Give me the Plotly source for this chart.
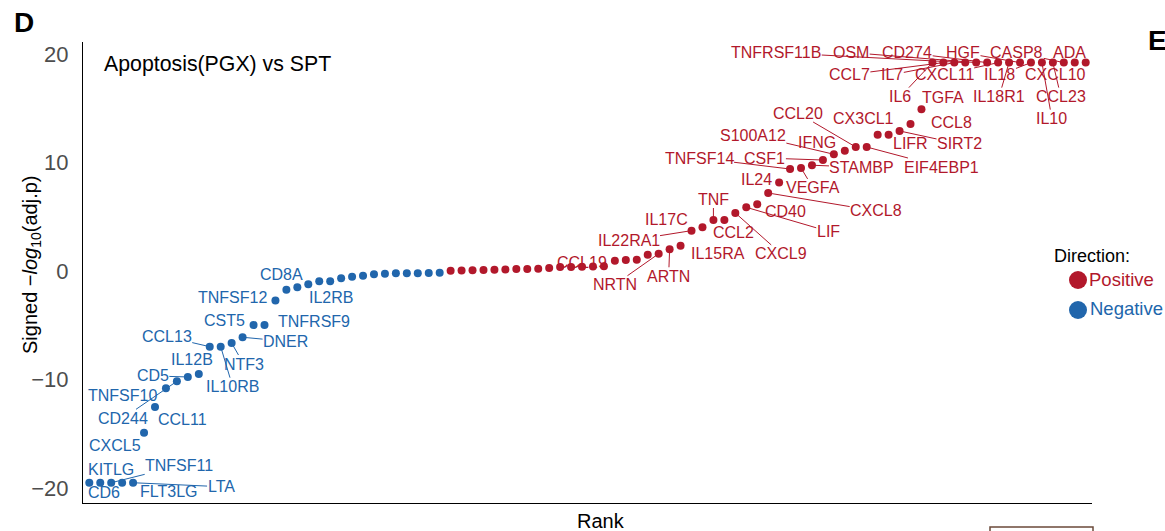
import plotly.graph_objects as go

# ---- data -------------------------------------------------------------
rank = list(range(1, 93))

signed_logp = [
    -19.51, -19.51, -19.51, -19.51, -19.51, -14.90, -12.53, -10.81, -10.16, -9.76,
    -9.49, -6.97, -6.97, -6.63, -6.10, -4.97, -4.97, -2.71, -1.72, -1.49,
    -1.21, -0.93, -0.93, -0.66, -0.52, -0.42, -0.30, -0.24, -0.20, -0.20,
    -0.19, -0.18, -0.15, 0.04, 0.05, 0.08, 0.10, 0.12, 0.14, 0.19,
    0.20, 0.22, 0.29, 0.38, 0.38, 0.39, 0.42, 0.45, 0.96, 1.02,
    1.05, 1.51, 1.60, 2.01, 2.34, 3.73, 4.04, 4.71, 4.71, 5.36,
    5.88, 6.16, 7.20, 8.17, 9.41, 9.51, 9.76, 10.24, 10.77, 11.10,
    11.44, 11.44, 12.58, 12.58, 12.92, 13.56, 14.92, 19.22, 19.22, 19.22,
    19.22, 19.22, 19.22, 19.22, 19.22, 19.22, 19.22, 19.22, 19.22, 19.22,
    19.22, 19.22,
]

label_rank = [
    1, 2, 3, 4, 5, 6, 7, 8, 9, 10, 11, 12, 13, 14, 15, 16, 17, 18, 19, 21,
    46, 53, 54, 55, 56, 57, 58, 59, 60, 61, 62, 63, 64, 65, 66, 67, 68, 69,
    70, 71, 72, 73, 74, 75, 76, 77, 78, 79, 80, 81, 82, 83, 84, 85, 86, 87,
    88, 89, 90, 91, 92,
]
label_gene = [
    "KITLG", "CD6", "TNFSF11", "FLT3LG", "LTA", "CXCL5", "CCL11", "TNFSF10",
    "CD244", "CD5", "IL12B", "CCL13", "IL10RB", "NTF3", "DNER", "CST5",
    "TNFRSF9", "TNFSF12", "CD8A", "IL2RB",
    "CCL19", "NRTN", "ARTN", "IL15RA", "IL22RA1", "IL17C", "TNF", "CCL2",
    "CXCL9", "LIF", "CD40", "CXCL8", "IL24", "TNFSF14", "VEGFA", "STAMBP",
    "CSF1", "S100A12", "IFNG", "CCL20", "EIF4EBP1", "CX3CL1", "LIFR", "SIRT2",
    "CCL8", "TGFA", "IL6", "CCL7", "IL7", "TNFRSF11B", "OSM", "CD274",
    "CXCL11", "IL18R1", "HGF", "IL18", "IL10", "CCL23", "CASP8", "CXCL10", "ADA",
]

# label placement: pixel offset of the text from its point, and whether a
# connector segment is drawn
label_place = {
    "KITLG": (22, -13, False), "CD6": (4, 10, False), "TNFSF11": (68, -17, True),
    "FLT3LG": (47, 9, False), "LTA": (88, 4, True), "CXCL5": (-29, 13, False),
    "CCL11": (28, 12, False), "TNFSF10": (-43, 7, False), "CD244": (-54, 37, True),
    "CD5": (-35, -1, True), "IL12B": (-7, -15, False), "CCL13": (-43, -10, True),
    "IL10RB": (12, 40, True), "NTF3": (12, 21, True), "DNER": (43, 4, True),
    "CST5": (-29, -5, False), "TNFRSF9": (50, -4, False), "TNFSF12": (-43, -3, False),
    "CD8A": (-5, -15, False), "IL2RB": (23, 13, False),
    "CCL19": (0, -4, False), "NRTN": (-44, 31, True), "ARTN": (-1, 27, True),
    "IL15RA": (37, 8, False), "IL22RA1": (-63, 10, True), "IL17C": (-36, -8, False),
    "TNF": (0, -21, True), "CCL2": (9, 12, False), "CXCL9": (46, 41, True),
    "LIF": (82, 24, True), "CD40": (28, 7, False), "CXCL8": (108, 18, True),
    "IL24": (-23, -3, False), "TNFSF14": (-91, -11, True), "VEGFA": (12, 20, True),
    "STAMBP": (50, 2, True), "CSF1": (-58, -2, True), "S100A12": (-81, -19, True),
    "IFNG": (-28, -8, False), "CCL20": (-58, -34, True), "EIF4EBP1": (75, 20, True),
    "CX3CL1": (-14, -16, False), "LIFR": (22, 9, False), "SIRT2": (60, 13, True),
    "CCL8": (41, -2, False), "TGFA": (22, -12, False), "IL6": (-32, 34, True),
    "CCL7": (-94, 12, True), "IL7": (-62, 12, True), "TNFRSF11B": (-189, -10, True),
    "OSM": (-125, -10, True), "CD274": (-80, -10, True), "CXCL11": (-54, 12, True),
    "IL18R1": (-10, 34, True), "HGF": (-57, -10, True), "IL18": (-31, 12, True),
    "IL10": (10, 56, True), "CCL23": (8, 34, True), "CASP8": (-47, -10, True),
    "CXCL10": (-19, 12, False), "ADA": (-16, -10, True),
}

RED = "#B2182B"
BLUE = "#2166AC"
FONT = "Liberation Sans, Arial, Helvetica, sans-serif"

fig = go.Figure()

for name, col in [("Negative", BLUE), ("Positive", RED)]:
    xs = [r for r, v in zip(rank, signed_logp) if (v < 0) == (name == "Negative")]
    ys = [v for v in signed_logp if (v < 0) == (name == "Negative")]
    fig.add_trace(go.Scatter(
        x=xs, y=ys, mode="markers", name=name,
        marker=dict(color=col, size=8, line=dict(width=0)),
        hoverinfo="skip",
    ))

annotations = []
for r, g in zip(label_rank, label_gene):
    v = signed_logp[r - 1]
    col = BLUE if v < 0 else RED
    dx, dy, seg = label_place[g]
    annotations.append(dict(
        x=r, y=v, xref="x", yref="y", text=g, showarrow=True,
        ax=dx, ay=dy, arrowhead=0, arrowwidth=1,
        arrowcolor=col if seg else "rgba(0,0,0,0)",
        font=dict(family=FONT, size=16, color=col),
        borderpad=0,
    ))

# plot-area geometry in pixels (used to place the free text)
L, R, T, B = 83, 1092, 42, 503
def px(xp):
    return (xp - L) / (R - L)
def py(yp):
    return (B - yp) / (B - T)

annotations += [
    dict(x=px(24), y=py(22), xref="paper", yref="paper", text="<b>D</b>",
         showarrow=False, font=dict(family=FONT, size=28, color="black"),
         xanchor="center", yanchor="middle"),
    dict(x=px(1146), y=py(40), xref="paper", yref="paper", text="<b>E</b>",
         showarrow=False, font=dict(family=FONT, size=28, color="black"),
         xanchor="left", yanchor="middle"),
    dict(x=px(102), y=py(64), xref="paper", yref="paper",
         text="Apoptosis(PGX) vs SPT", showarrow=False,
         font=dict(family=FONT, size=21.3, color="black"),
         xanchor="left", yanchor="middle"),
    dict(x=px(31), y=py(265), xref="paper", yref="paper",
         text="Signed \u2212<i>log</i><sub>10</sub>(adj.p)", showarrow=False,
         textangle=-90, font=dict(family=FONT, size=20, color="black"),
         xanchor="center", yanchor="middle"),
    dict(x=px(601), y=py(521), xref="paper", yref="paper", text="Rank",
         showarrow=False, font=dict(family=FONT, size=20, color="black"),
         xanchor="center", yanchor="middle"),
    dict(x=px(1052), y=py(256), xref="paper", yref="paper", text="Direction:",
         showarrow=False, font=dict(family=FONT, size=18, color="black"),
         xanchor="left", yanchor="middle"),
    dict(x=px(1087), y=py(279), xref="paper", yref="paper", text="Positive",
         showarrow=False, font=dict(family=FONT, size=18.5, color=RED),
         xanchor="left", yanchor="middle"),
    dict(x=px(1088), y=py(309), xref="paper", yref="paper", text="Negative",
         showarrow=False, font=dict(family=FONT, size=18.5, color=BLUE),
         xanchor="left", yanchor="middle"),
]

shapes = []
for ycen, col in [(280, RED), (310, BLUE)]:
    shapes.append(dict(
        type="circle", xref="paper", yref="paper",
        xsizemode="pixel", ysizemode="pixel",
        xanchor=px(1078), yanchor=py(ycen),
        x0=-9, x1=9, y0=-9, y1=9,
        fillcolor=col, line=dict(width=0),
    ))
shapes.append(dict(
    type="rect", xref="paper", yref="paper",
    x0=px(990), x1=px(1093), y0=py(535), y1=py(527),
    line=dict(color="#6b4a3a", width=1.5), fillcolor="rgba(0,0,0,0)",
))

tick_vals = [-20, -10, 0, 10, 20]
tick_text = ["\u221220", "\u221210", "0", "10", "20"]

fig.update_layout(
    width=1165, height=531,
    margin=dict(l=L, r=1165 - R, t=T, b=531 - B, pad=0),
    plot_bgcolor="white", paper_bgcolor="white",
    showlegend=False,
    font=dict(family=FONT),
    xaxis=dict(range=[0.425, 92.575], showline=True, linecolor="black",
               linewidth=1.2, showticklabels=False, ticks="", showgrid=False,
               zeroline=False),
    yaxis=dict(range=[-21.38, 21.12], showline=True, linecolor="black",
               linewidth=1.2, tickvals=tick_vals, ticktext=tick_text,
               tickfont=dict(family=FONT, size=22, color="#4D4D4D"),
               ticks="", ticklabelstandoff=9, showgrid=False, zeroline=False),
    annotations=annotations,
    shapes=shapes,
)

fig.write_html("out.html")
